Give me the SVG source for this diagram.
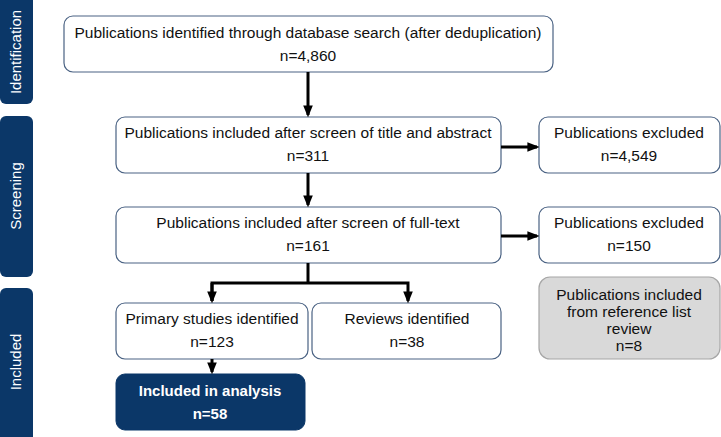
<svg xmlns="http://www.w3.org/2000/svg" width="721" height="437" viewBox="0 0 721 437">
<style>
.box{fill:#fff;stroke:#4a6283;stroke-width:1.2}
.grey{fill:#d9d9d9;stroke:#a6a6a6;stroke-width:1.2}
.dark{fill:#0b3768;stroke:#0b3768}
.bar{fill:#0b3768}
.t{font-family:"Liberation Sans",Arial,sans-serif;font-size:15.5px;fill:#111;text-anchor:middle}
.w{font-family:"Liberation Sans",Arial,sans-serif;font-size:15px;fill:#fff;text-anchor:middle}
.wb{font-family:"Liberation Sans",Arial,sans-serif;font-size:15px;fill:#fff;text-anchor:middle;font-weight:bold}
.c{fill:none;stroke:#000;stroke-width:3}
</style>
<defs>
<marker id="ah" markerWidth="4" markerHeight="4" refX="3.2" refY="2" orient="auto" markerUnits="strokeWidth">
<path d="M0,0.4 L4,2 L0,3.6 z" fill="#000"/>
</marker>
</defs>
<g id="side-identification"><rect class="bar" x="0" y="-8" width="33" height="112" rx="6"/><text class="w" transform="translate(21,52) rotate(-90)">Identification</text></g>
<g id="side-screening"><rect class="bar" x="0" y="116" width="33" height="161" rx="6"/><text class="w" transform="translate(21,196) rotate(-90)">Screening</text></g>
<g id="side-included"><rect class="bar" x="0" y="288" width="33" height="157" rx="6"/><text class="w" transform="translate(21,362) rotate(-90)">Included</text></g>

<g id="identified"><rect class="box" x="64" y="16" width="489" height="56" rx="9"/><text class="t" x="308" y="38">Publications identified through database search (after deduplication)</text><text class="t" x="308" y="61">n=4,860</text></g>
<g id="screened"><rect class="box" x="116" y="117" width="385" height="56" rx="9"/><text class="t" x="308" y="138">Publications included after screen of title and abstract</text><text class="t" x="308" y="161">n=311</text></g>
<g id="excluded1"><rect class="box" x="539" y="117" width="181" height="56" rx="9"/><text class="t" x="629" y="138">Publications excluded</text><text class="t" x="629" y="161">n=4,549</text></g>
<g id="fulltext"><rect class="box" x="116" y="207" width="385" height="56" rx="9"/><text class="t" x="308" y="228">Publications included after screen of full-text</text><text class="t" x="308" y="251">n=161</text></g>
<g id="excluded2"><rect class="box" x="539" y="207" width="181" height="56" rx="9"/><text class="t" x="629" y="228">Publications excluded</text><text class="t" x="629" y="251">n=150</text></g>
<g id="primary"><rect class="box" x="116" y="303" width="192" height="56" rx="9"/><text class="t" x="212" y="324">Primary studies identified</text><text class="t" x="212" y="347">n=123</text></g>
<g id="reviews"><rect class="box" x="312" y="303" width="189" height="56" rx="9"/><text class="t" x="407" y="324">Reviews identified</text><text class="t" x="407" y="347">n=38</text></g>
<g id="reflist"><rect class="grey" x="539" y="277" width="181" height="82" rx="11"/><text class="t" x="629" y="300">Publications included</text><text class="t" x="629" y="317">from reference list</text><text class="t" x="629" y="334">review</text><text class="t" x="629" y="351">n=8</text></g>
<g id="analysis"><rect class="dark" x="116" y="374" width="189" height="56" rx="9"/><text class="wb" x="210" y="396">Included in analysis</text><text class="wb" x="210" y="419">n=58</text></g>

<g id="connectors">
<path class="c" d="M308,72 V115" marker-end="url(#ah)"/>
<path class="c" d="M308,173 V205" marker-end="url(#ah)"/>
<path class="c" d="M501,147 H537" marker-end="url(#ah)"/>
<path class="c" d="M501,236 H537" marker-end="url(#ah)"/>
<path class="c" d="M308,263 V283"/>
<path class="c" d="M212,301 V283 H408 V301" marker-end="url(#ah)"/>
<path class="c" d="M212,283 V301" marker-end="url(#ah)"/>
<path class="c" d="M212,359 V372" marker-end="url(#ah)"/>
</g>
</svg>
